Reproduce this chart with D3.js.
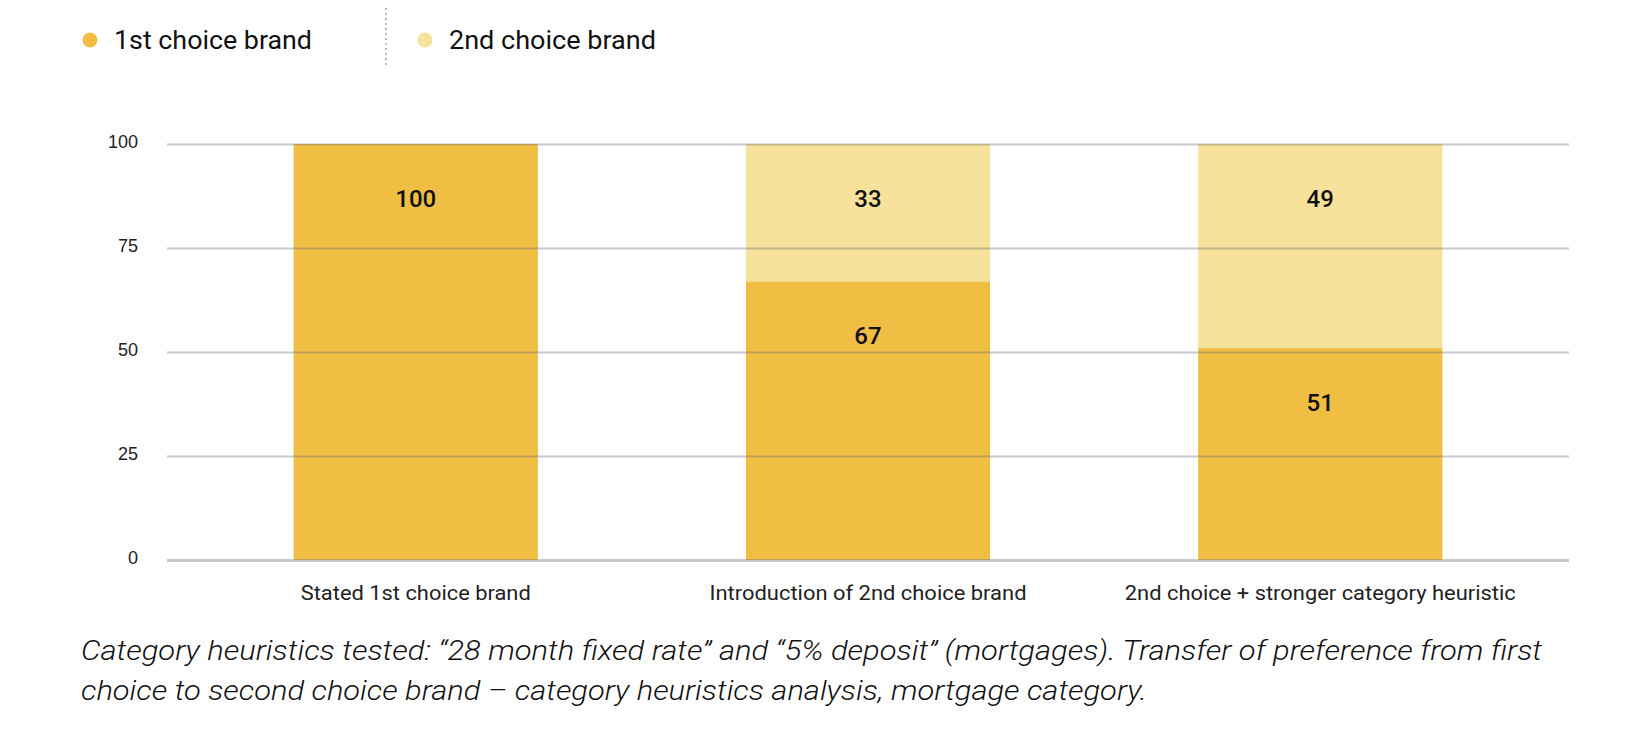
<!DOCTYPE html>
<html>
<head>
<meta charset="utf-8">
<script src="https://cdn.jsdelivr.net/npm/d3@7"></script>
<style>
  body { margin: 0; background: #fff; }
  svg { display: block; font-family: Roboto, "Noto Sans", sans-serif; }
</style>
</head>
<body>
<svg id="chart"></svg>
<script>
// data
const categories = ['Stated 1st choice brand', 'Introduction of 2nd choice brand', '2nd choice + stronger category heuristic'];
const firstChoice = [100, 67, 51];
const secondChoice = [0, 33, 49];
const yTicks = [0, 25, 50, 75, 100];
const seriesNames = ['1st choice brand', '2nd choice brand'];
const seriesColors = ['#f0be42', '#f6e29a'];
const captionLines = [
  'Category heuristics tested: \u201c28 month fixed rate\u201d and \u201c5% deposit\u201d (mortgages). Transfer of preference from first',
  'choice to second choice brand \u2013 category heuristics analysis, mortgage category.'
];

const width = 1634, height = 752;
const plot = {left: 167, right: 1569, top: 144, bottom: 560};

const svg = d3.select('#chart')
    .attr('width', width)
    .attr('height', height);

const xScale = d3.scaleBand()
    .domain(categories)
    .range([plot.left, plot.right])
    .paddingInner(0.46)
    .paddingOuter(0.28);

const yScale = d3.scaleLinear()
    .domain([0, 100])
    .range([plot.bottom, plot.top]);

//stacked segments
const rows = categories.map((c, i) => ({cat: c, first: firstChoice[i], second: secondChoice[i]}));
const stack = d3.stack().keys(['first', 'second'])(rows);

const bars = svg.append('g');
stack.forEach((layer, k) => {
    bars.selectAll(null)
        .data(layer.filter(d => d[1] - d[0] > 0))
        .enter()
        .append('rect')
        .attr('x', d => xScale(d.data.cat))
        .attr('width', xScale.bandwidth())
        .attr('y', d => yScale(d[1]))
        .attr('height', d => yScale(d[0]) - yScale(d[1]))
        .attr('fill', seriesColors[k]);
});

//grid lines on top, semi transparent so they show through bars
const yAxis = d3.axisLeft(yScale)
    .tickValues(yTicks)
    .tickSize(-(plot.right - plot.left))
    .tickPadding(29);

const axisG = svg.append('g')
    .attr('transform', `translate(${plot.left}, 0)`)
    .call(yAxis);
axisG.select('.domain').remove();
axisG.selectAll('.tick line')
    .attr('stroke', 'rgba(110,110,125,0.38)')
    .attr('stroke-width', d => d === 0 ? 3 : 2);
axisG.selectAll('.tick text')
    .attr('fill', '#222')
    .attr('font-size', 18)
    .attr('dy', '0.2em');

//value labels
stack.forEach((layer, k) => {
    svg.append('g').selectAll('text')
        .data(layer.filter(d => d[1] - d[0] > 0))
        .enter()
        .append('text')
        .attr('x', d => xScale(d.data.cat) + xScale.bandwidth() / 2)
        .attr('y', d => yScale(d[1]) + 63)
        .attr('text-anchor', 'middle')
        .attr('font-size', 24)
        .attr('font-weight', 500)
        .attr('fill', '#111')
        .text(d => d[1] - d[0]);
});

//x labels, stretched a little to the reference widths
const xLabelWidths = [230, 317, 391];
svg.append('g').selectAll('text')
    .data(categories)
    .enter()
    .append('text')
    .attr('x', d => xScale(d) + xScale.bandwidth() / 2)
    .attr('y', 600)
    .attr('text-anchor', 'middle')
    .attr('font-size', 21)
    .attr('fill', '#222')
    .attr('textLength', (d, i) => xLabelWidths[i])
    .attr('lengthAdjust', 'spacingAndGlyphs')
    .text(d => d);

//legend
const legendX = [90, 425];
const legendWidths = [198, 207];
const legend = svg.append('g');
seriesNames.forEach((name, i) => {
    legend.append('circle')
        .attr('cx', legendX[i])
        .attr('cy', 40)
        .attr('r', 7.5)
        .attr('fill', seriesColors[i]);
    legend.append('text')
        .attr('x', legendX[i] + 24)
        .attr('y', 49)
        .attr('font-size', 26)
        .attr('fill', '#111')
        .attr('textLength', legendWidths[i])
        .attr('lengthAdjust', 'spacingAndGlyphs')
        .text(name);
});
legend.append('line')
    .attr('x1', 386).attr('x2', 386)
    .attr('y1', 8).attr('y2', 68)
    .attr('stroke', '#bbb')
    .attr('stroke-width', 2)
    .attr('stroke-dasharray', '2,3');

//caption
const captionWidths = [1461, 1066];
svg.append('g').selectAll('text')
    .data(captionLines)
    .enter()
    .append('text')
    .attr('x', 81)
    .attr('y', (d, i) => 660 + i * 40)
    .attr('font-size', 28)
    .attr('font-style', 'italic')
    .attr('font-weight', 300)
    .attr('fill', '#111')
    .attr('textLength', (d, i) => captionWidths[i])
    .attr('lengthAdjust', 'spacingAndGlyphs')
    .text(d => d);
</script>
</body>
</html>
